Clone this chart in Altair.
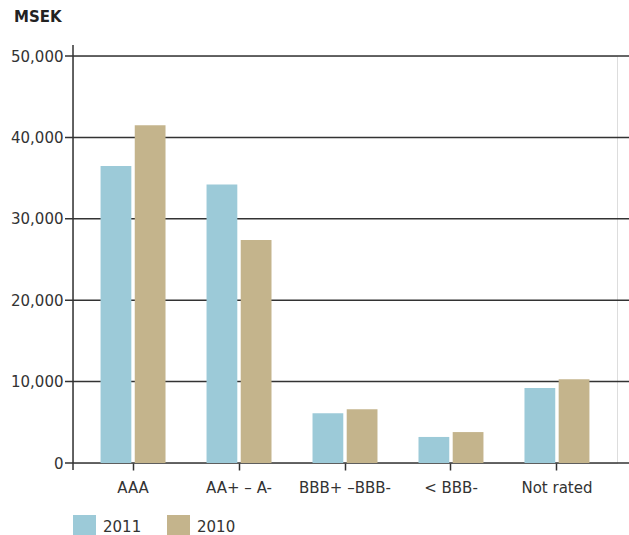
import altair as alt
import pandas as pd

# Exposure by credit rating, MSEK
categories = ["AAA", "AA+ – A-", "BBB+ –BBB-", "< BBB-", "Not rated"]
years = ["2011", "2010"]
values_2011 = [36500, 34200, 6100, 3200, 9200]
values_2010 = [41500, 27400, 6600, 3800, 10300]
y_ticks = [0, 10000, 20000, 30000, 40000, 50000]
unit_label = ["MSEK"]

colors = ["#9ccad8", "#c4b48c"]
ink = "#333333"
font = "DejaVu Sans"

rows = []
for cat, a, b in zip(categories, values_2011, values_2010):
    rows.append({"category": cat, "year": "2011", "value": a})
    rows.append({"category": cat, "year": "2010", "value": b})
df = pd.DataFrame(rows)
grid_df = pd.DataFrame({"tick": y_ticks})

y_scale = alt.Scale(domain=[0, 50000], nice=False)

bars = alt.Chart(df).mark_bar().encode(
    x=alt.X(
        "category:N",
        sort=categories,
        scale=alt.Scale(paddingInner=0.387, paddingOuter=0.26),
        axis=alt.Axis(
            title=None, domain=False, labelAngle=0, labelFontSize=15,
            labelColor=ink, labelFont=font, tickColor=ink, tickWidth=1.5,
            tickSize=7, labelPadding=10, grid=False,
        ),
    ),
    xOffset=alt.XOffset("year:N", sort=years, scale=alt.Scale(paddingInner=0.1)),
    y=alt.Y(
        "value:Q",
        scale=y_scale,
        axis=alt.Axis(
            title=None, values=y_ticks, format=",d", domain=False, ticks=False,
            grid=False, labelFontSize=15, labelColor=ink, labelFont=font,
            labelPadding=10,
        ),
    ),
    color=alt.Color(
        "year:N",
        sort=years,
        scale=alt.Scale(domain=years, range=colors),
        legend=alt.Legend(
            title=None, orient="none", direction="horizontal",
            legendX=0, legendY=459, symbolType="square", symbolSize=529,
            symbolStrokeWidth=0, labelFontSize=15, labelColor=ink,
            labelFont=font, columnPadding=25, labelOffset=7,
        ),
    ),
)

# horizontal gridlines running from the tick position to the right edge
grid = alt.Chart(grid_df).mark_rule(color=ink, strokeWidth=1.5).encode(
    y=alt.Y("tick:Q", scale=y_scale),
    x=alt.value(-8),
    x2=alt.value(556),
)

# vertical value axis line, slightly overshooting the data range
axis_line = alt.Chart(grid_df).transform_filter("datum.tick == 0").mark_rule(
    color=ink, strokeWidth=1.5
).encode(
    x=alt.value(0),
    y=alt.value(-11),
    y2=alt.value(414),
)

# unit label above the value axis
unit = alt.Chart(pd.DataFrame({"label": unit_label})).mark_text(
    align="left", baseline="alphabetic", fontSize=15, fontWeight="bold",
    color="#222222", font=font,
).encode(
    text="label:N",
    x=alt.value(-59),
    y=alt.value(-34),
)

chart = alt.layer(grid, axis_line, bars, unit).properties(
    width=544,
    height=407,
    autosize=alt.AutoSizeParams(type="none"),
    padding={"left": 73, "top": 56, "right": 12, "bottom": 72},
).configure_view(stroke=None).configure(background="white")

chart.save("out.html", embed_options={"renderer": "svg", "actions": False})
